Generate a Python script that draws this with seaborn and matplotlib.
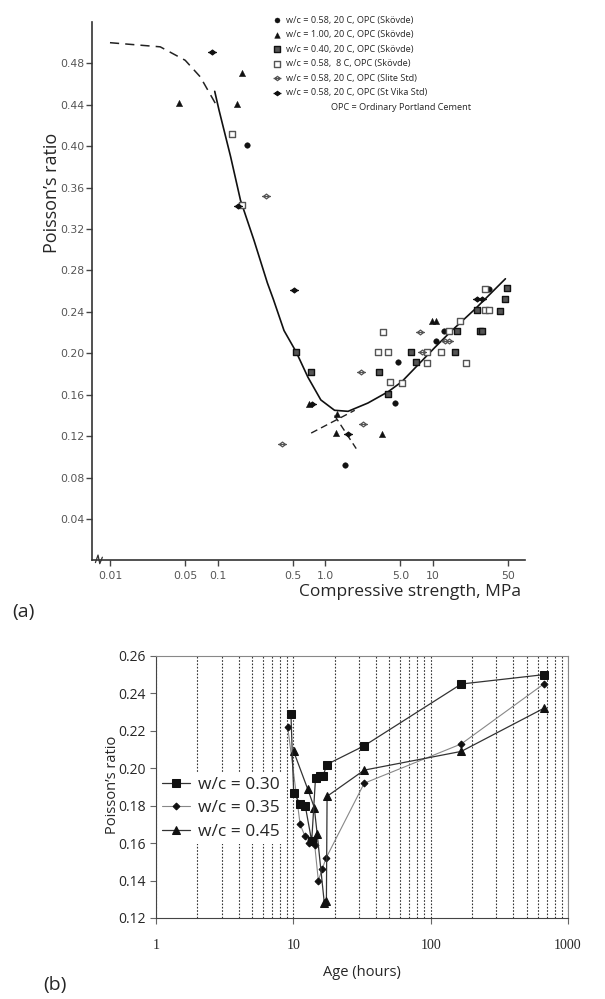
import numpy as np
import matplotlib
matplotlib.use("Agg")
import matplotlib.pyplot as plt
import seaborn as sns
from matplotlib.path import Path
from matplotlib.ticker import FixedLocator, NullFormatter, LogLocator, FuncFormatter

# ---------------- panel (a): Poisson's ratio vs compressive strength ----------------
circ_x = [0.187, 1.51, 4.44, 4.78, 10.8, 12.6, 33.0]
circ_y = [0.401, 0.092, 0.152, 0.192, 0.212, 0.222, 0.262]

tri_x = [0.044, 0.151, 0.167, 0.70, 1.29, 1.25, 3.34, 9.8, 10.7]
tri_y = [0.442, 0.441, 0.471, 0.151, 0.141, 0.123, 0.122, 0.231, 0.231]

sqf_x = [0.536, 0.74, 3.17, 3.85, 6.27, 6.98, 16.2, 16.7, 25.8, 27.7, 28.6, 42.0, 46.6, 48.4]
sqf_y = [0.201, 0.182, 0.182, 0.161, 0.201, 0.192, 0.201, 0.222, 0.242, 0.222, 0.222, 0.241, 0.252, 0.263]

sqo_x = [0.135, 0.167, 3.06, 3.41, 3.85, 3.99, 5.13, 8.8, 8.9, 12.0, 14.0, 17.8, 20.3, 30.4, 30.8, 33.1]
sqo_y = [0.412, 0.343, 0.201, 0.221, 0.201, 0.172, 0.171, 0.201, 0.191, 0.201, 0.222, 0.231, 0.191, 0.262, 0.242, 0.242]

slite_x = [0.281, 0.40, 2.17, 2.25, 7.6, 7.9, 13.0, 14.0]
slite_y = [0.352, 0.112, 0.182, 0.132, 0.221, 0.201, 0.212, 0.212]

vika_x = [0.088, 0.156, 0.517, 0.75, 1.63, 25.8, 28.6]
vika_y = [0.491, 0.342, 0.261, 0.151, 0.122, 0.252, 0.252]

# fitted curves
dash_top_x = [0.01, 0.0293, 0.050, 0.069, 0.0995]
dash_top_y = [0.500, 0.496, 0.483, 0.467, 0.438]
main_x = [0.094, 0.103, 0.132, 0.163, 0.218, 0.29, 0.33, 0.414, 0.536, 0.69, 0.91, 1.22,
          1.63, 2.49, 3.85, 5.13, 7.3, 10.5, 15.0, 24.8, 47.2]
main_y = [0.453, 0.435, 0.390, 0.348, 0.309, 0.268, 0.252, 0.222, 0.2015, 0.177, 0.155, 0.145,
          0.144, 0.152, 0.163, 0.1725, 0.189, 0.206, 0.222, 0.243, 0.272]
dash1_x = [0.74, 1.88]
dash1_y = [0.123, 0.145]
dash2_x = [1.22, 1.94]
dash2_y = [0.140, 0.108]

labels_a = ["w/c = 0.58, 20 C, OPC (Skövde)",
            "w/c = 1.00, 20 C, OPC (Skövde)",
            "w/c = 0.40, 20 C, OPC (Skövde)",
            "w/c = 0.58,  8 C, OPC (Skövde)",
            "w/c = 0.58, 20 C, OPC (Slite Std)",
            "w/c = 0.58, 20 C, OPC (St Vika Std)"]

xticks_a = [0.01, 0.05, 0.1, 0.5, 1.0, 5.0, 10, 50]
xticklabels_a = ["0.01", "0.05", "0.1", "0.5", "1.0", "5.0", "10", "50"]
yticks_a = [0.04, 0.08, 0.12, 0.16, 0.20, 0.24, 0.28, 0.32, 0.36, 0.40, 0.44, 0.48]

# ---------------- panel (b): Poisson's ratio vs age ----------------
age30 = [9.6, 10.05, 11.2, 12.2, 13.6, 14.5, 15.5, 16.5, 17.5, 32.8, 167, 665]
pr30 = [0.229, 0.187, 0.181, 0.180, 0.161, 0.195, 0.196, 0.196, 0.202, 0.212, 0.245, 0.250]
age35 = [9.1, 11.2, 12.1, 13.0, 13.8, 14.3, 15.2, 16.2, 17.3, 32.8, 167, 665]
pr35 = [0.222, 0.170, 0.164, 0.160, 0.161, 0.159, 0.140, 0.146, 0.152, 0.192, 0.213, 0.245]
age45 = [10.05, 12.7, 14.2, 14.9, 16.8, 17.4, 17.6, 32.8, 167, 665]
pr45 = [0.209, 0.189, 0.179, 0.165, 0.128, 0.129, 0.185, 0.199, 0.209, 0.232]
labels_b = ["w/c = 0.30", "w/c = 0.35", "w/c = 0.45"]

sns.set_style("ticks")
plt.rcParams['font.family'] = ['Open Sans', 'DejaVu Sans']

fig = plt.figure(figsize=(6.05, 9.99), dpi=100)

# diamond with a horizontal bar through it
bar_diamond = Path([(0, 0.55), (0.7, 0), (0, -0.55), (-0.7, 0), (0, 0.55), (-1, 0), (1, 0)],
                   [Path.MOVETO, Path.LINETO, Path.LINETO, Path.LINETO, Path.CLOSEPOLY,
                    Path.MOVETO, Path.LINETO])

ax = fig.add_axes([0.152, 0.439, 0.716, 0.539])
ax.set_xscale("log")

sns.lineplot(x=dash_top_x, y=dash_top_y, ax=ax, color="#222", lw=1.1, linestyle=(0, (6, 4)), sort=False)
sns.lineplot(x=main_x, y=main_y, ax=ax, color="#111", lw=1.2, sort=False)
sns.lineplot(x=dash1_x, y=dash1_y, ax=ax, color="#222", lw=1.0, linestyle=(0, (5, 3)), sort=False)
sns.lineplot(x=dash2_x, y=dash2_y, ax=ax, color="#222", lw=1.0, linestyle=(0, (5, 3)), sort=False)

sns.scatterplot(x=circ_x, y=circ_y, ax=ax, marker="o", s=16, color="#111", edgecolor="#111",
                label=labels_a[0], zorder=5)
sns.scatterplot(x=tri_x, y=tri_y, ax=ax, marker="^", s=20, color="#111", edgecolor="#111",
                label=labels_a[1], zorder=5)
sns.scatterplot(x=sqf_x, y=sqf_y, ax=ax, marker="s", s=18, color="#555", edgecolor="#111",
                linewidth=1.0, label=labels_a[2], zorder=5)
sns.scatterplot(x=sqo_x, y=sqo_y, ax=ax, marker="s", s=22, color="white", edgecolor="#555",
                linewidth=1.0, label=labels_a[3], zorder=5)
sns.scatterplot(x=slite_x, y=slite_y, ax=ax, marker=bar_diamond, s=40, color="white",
                edgecolor="#555", linewidth=0.9, label=labels_a[4], zorder=5)
sns.scatterplot(x=vika_x, y=vika_y, ax=ax, marker=bar_diamond, s=40, color="#111",
                edgecolor="#111", linewidth=0.9, label=labels_a[5], zorder=5)

ax.set_xlim(0.0068, 72)
ax.set_ylim(0, 0.52)
ax.xaxis.set_major_locator(FixedLocator(xticks_a))
ax.xaxis.set_minor_locator(FixedLocator([]))
ax.set_xticklabels(xticklabels_a)
ax.set_yticks(yticks_a)
ax.set_yticklabels([f"{v:.2f}" for v in yticks_a])
ax.tick_params(axis="both", direction="out", length=4, width=1.0, color="#444",
               labelsize=7.8, labelcolor="#555")
ax.tick_params(axis="y", pad=1.5)
for lab in ax.get_xticklabels() + ax.get_yticklabels():
    lab.set_family(["DejaVu Sans"])
sns.despine(ax=ax)
ax.spines["left"].set_color("#333")
ax.spines["bottom"].set_color("#333")
ax.spines["left"].set_linewidth(1.2)
ax.spines["bottom"].set_linewidth(1.2)

# axis break mark near the origin
ax.plot([0.008, 0.014, 0.018, 0.024], [-0.004, 0.010, -0.006, 0.006], transform=ax.transAxes,
        color="#333", lw=0.9, clip_on=False)

ax.set_ylabel("Poisson’s ratio", fontsize=13)
ax.yaxis.set_label_coords(-0.072, 0.682)
ax.set_xlabel("Compressive strength, MPa", fontsize=12.5, ha="right")
ax.xaxis.set_label_coords(0.990, -0.044)

leg = ax.legend(loc="upper left", bbox_to_anchor=(268 / 605, 1 - 11 / 999),
                bbox_transform=fig.transFigure, frameon=False, fontsize=6.6,
                handlelength=0.9, handletextpad=0.6, labelspacing=0.6, borderpad=0,
                markerscale=0.9)
fig.text(331 / 605, 1 - 108 / 999, "OPC = Ordinary Portland Cement", fontsize=6.6,
         ha="left", va="center")

fig.text(12 / 605, 1 - 612 / 999, "(a)", fontsize=14, ha="left", va="center")

# ---------------- panel (b) ----------------
bx = fig.add_axes([0.2579, 0.0811, 0.681, 0.2623])
bx.set_xscale("log")

sns.lineplot(x=age35, y=pr35, ax=bx, color="#888", lw=0.8, marker="D", markersize=3.5,
             markerfacecolor="#111", markeredgecolor="#111", sort=False, label=labels_b[1], zorder=4)
sns.lineplot(x=age45, y=pr45, ax=bx, color="#333", lw=0.9, marker="^", markersize=6,
             markerfacecolor="#111", markeredgecolor="#111", sort=False, label=labels_b[2], zorder=4)
sns.lineplot(x=age30, y=pr30, ax=bx, color="#333", lw=0.9, marker="s", markersize=5.5,
             markerfacecolor="#111", markeredgecolor="#111", sort=False, label=labels_b[0], zorder=4)

bx.set_xlim(1, 1000)
bx.set_ylim(0.12, 0.26)
bx.xaxis.set_major_locator(FixedLocator([1, 10, 100, 1000]))
bx.xaxis.set_minor_locator(LogLocator(base=10, subs=np.arange(2, 10)))
bx.xaxis.set_minor_formatter(NullFormatter())
bx.xaxis.set_major_formatter(FuncFormatter(lambda v, p: f"{v:g}"))
bx.set_yticks(np.arange(0.12, 0.261, 0.02))
bx.yaxis.set_major_formatter(FuncFormatter(lambda v, p: f"{v:.2f}"))
bx.grid(True, axis="x", which="both", linestyle=(0, (1.5, 1.5)), color="#333", lw=0.8)
bx.tick_params(axis="both", which="major", direction="out", length=4, color="#666", labelsize=10)
bx.tick_params(axis="x", which="major", pad=11)
bx.tick_params(axis="x", which="minor", length=0)
for lab in bx.get_xticklabels():
    lab.set_family(["Liberation Serif"])
for sp in bx.spines.values():
    sp.set_color("#888")
bx.spines["left"].set_color("#444")
bx.spines["bottom"].set_color("#444")

bx.set_ylabel("Poisson’s ratio", fontsize=10.5)
bx.yaxis.set_label_coords(-0.088, 0.508)
bx.set_xlabel("Age (hours)", fontsize=10.5)
bx.xaxis.set_label_coords(0.5, -0.18)

handles, labs = bx.get_legend_handles_labels()
order = [labs.index(l) for l in labels_b]
lg = bx.legend([handles[i] for i in order], [labs[i] for i in order],
               loc="upper left", bbox_to_anchor=(0.005, 0.555), fontsize=12.5,
               frameon=True, facecolor="white", edgecolor="none", framealpha=1,
               handlelength=1.6, handletextpad=0.45, labelspacing=0.42, borderpad=0.25,
               borderaxespad=0)
lg.set_zorder(10)

fig.text(43 / 605, 1 - 985 / 999, "(b)", fontsize=14, ha="left", va="center")

fig.savefig("out.png", dpi=100)
